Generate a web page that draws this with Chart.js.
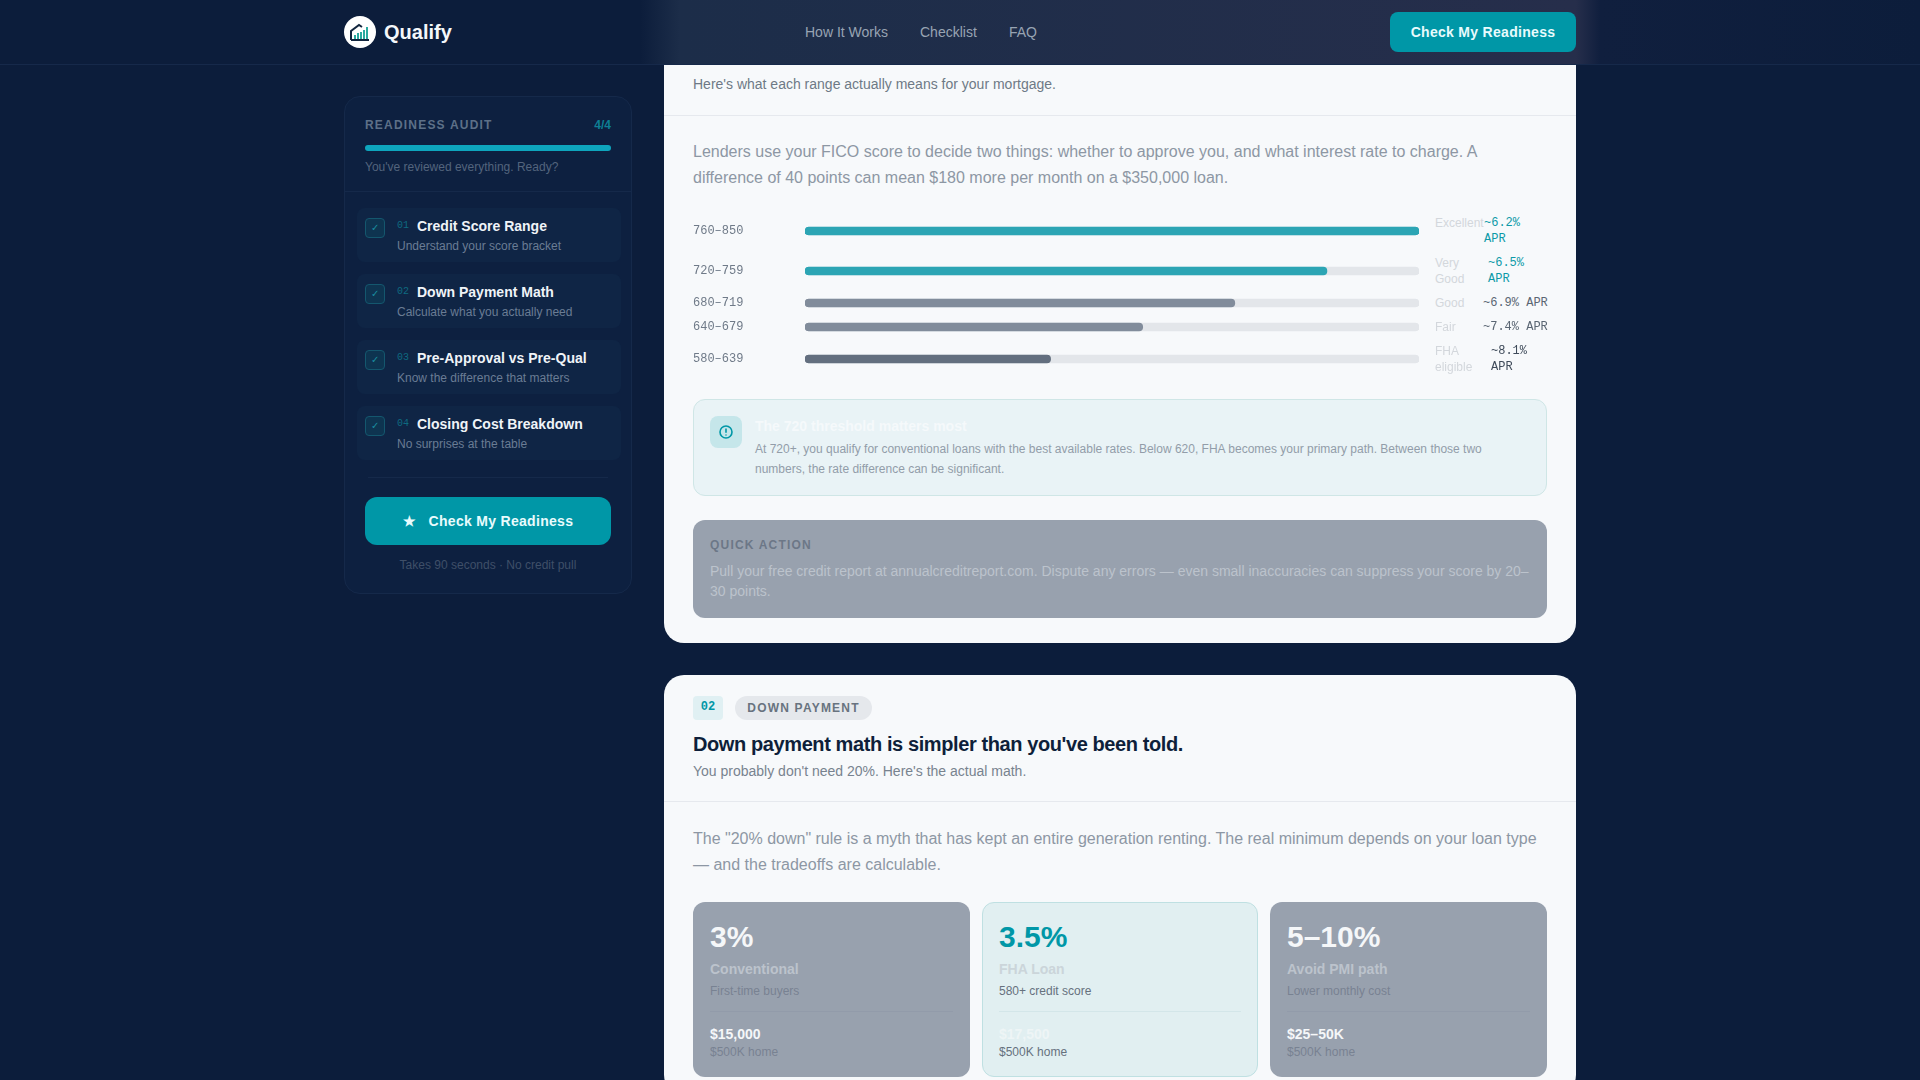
<!DOCTYPE html>
<html>
<head>
<meta charset="utf-8">
<title>Qualify</title>
<script src="https://cdn.jsdelivr.net/npm/chart.js@4"></script>
<style>
html, body { margin: 0; width: 1920px; height: 1080px; overflow: hidden; background: #0c1d3b; font-family: "Liberation Sans", Arial, sans-serif; }
div, a, span { position: absolute; white-space: nowrap; line-height: 1; box-sizing: border-box; }
.t { transform: translateY(-50%); }
.mono { font-family: "Liberation Mono", monospace; }
.header { left: 0; top: 0; width: 1920px; height: 65px; border-bottom: 1px solid #16294a; z-index: 5;
  background: linear-gradient(90deg, #0c1d3b 0, #0c1d3b 640px, #1c2d49 680px, #262e4b 1576px, #101f3e 1600px, #0c1d3b 1920px); }
.card { background: #f7f9fb; left: 664px; width: 912px; border-radius: 20px; }
.rule { height: 1px; background: #e6e9ee; }
.panel { left: 344px; top: 96px; width: 288px; height: 498px; border: 1px solid #15294a; border-radius: 16px; background: #0d2040; }
.item { left: 357px; width: 264px; height: 54px; background: #0f2545; border-radius: 8px; }
.box { left: 365px; width: 20px; height: 20px; border: 1px solid #14576e; background: #0e3450; border-radius: 4px; color: #1a8ea0; font-size: 10px; text-align: center; line-height: 18px; }
.btn { background: #0097a7; color: #e8fbfd; font-weight: 700; font-size: 14px; letter-spacing: .3px; text-align: center; }
.tile { top: 902px; height: 175px; background: #98a1ae; border-radius: 12px; }
.row { left: 693px; width: 854px; }
.row canvas { position: absolute; left: 0; }
</style>
</head>
<body>

<div class="card" style="top:40px;height:603px"></div>
<div class="card" style="top:675px;height:420px"></div>

<div class="header"></div>
<div style="left:344px;top:16px;width:32px;height:32px;border-radius:50%;background:#fff;z-index:6"></div>
<svg style="position:absolute;left:349px;top:22px;z-index:7" width="22" height="20" viewBox="0 0 22 20">
  <path d="M2 18V9L10 3l3 2" fill="none" stroke="#12263f" stroke-width="2"/>
  <path d="M2 18H20" stroke="#12263f" stroke-width="2"/>
  <path d="M6 17v-4M9 17v-6M12 17v-7M15 17v-9M18 17V5" stroke="#2aa9a0" stroke-width="2"/>
</svg>
<a class="t" style="left:384px;top:32px;font-size:20px;font-weight:700;color:#f4f7fa;z-index:6">Qualify</a>
<a class="t nav" style="left:805px;top:32px;font-size:14px;color:#98a4b3;z-index:6">How It Works</a>
<a class="t nav" style="left:920px;top:32px;font-size:14px;color:#98a4b3;z-index:6">Checklist</a>
<a class="t nav" style="left:1009px;top:32px;font-size:14px;color:#98a4b3;z-index:6">FAQ</a>
<div class="btn" style="left:1390px;top:12px;width:186px;height:40px;line-height:40px;border-radius:8px;z-index:6">Check My Readiness</div>

<!-- sidebar -->
<div class="panel"></div>
<span class="t" style="left:365px;top:125px;font-size:12px;font-weight:700;letter-spacing:1.2px;color:#5d7088">READINESS AUDIT</span>
<span class="t" style="right:1309px;top:125px;font-size:12px;font-weight:700;color:#0e7f95">4/4</span>
<div style="left:365px;top:145px;width:246px;height:6px;border-radius:3px;background:#0ea5bd"></div>
<span class="t" style="left:365px;top:167px;font-size:12px;color:#53647d">You've reviewed everything. Ready?</span>
<div style="left:344px;top:191px;width:288px;height:1px;background:#15294a"></div>
<div id="items"></div>
<div style="left:368px;top:477px;width:240px;height:1px;background:#15294a"></div>
<div class="btn" style="left:365px;top:497px;width:246px;height:48px;line-height:48px;border-radius:12px">★&nbsp;&nbsp;&nbsp;Check My Readiness</div>
<span class="t" style="left:365px;width:246px;text-align:center;top:565px;font-size:12px;color:#3f4f68">Takes 90 seconds · No credit pull</span>

<!-- card 1 -->
<span class="t" style="left:693px;top:84px;font-size:14px;color:#6e7986">Here's what each range actually means for your mortgage.</span>
<div class="rule" style="left:664px;top:115px;width:912px"></div>
<span class="t" style="left:693px;top:152px;font-size:16px;color:#8d97a4">Lenders use your FICO score to decide two things: whether to approve you, and what interest rate to charge. A</span>
<span class="t" style="left:693px;top:178px;font-size:16px;color:#8d97a4">difference of 40 points can mean $180 more per month on a $350,000 loan.</span>

<div id="rows"></div>

<div style="left:693px;top:399px;width:854px;height:97px;background:#e9f3f6;border:1px solid #cfe6e6;border-radius:12px"></div>
<div style="left:710px;top:416px;width:32px;height:32px;background:#c5e6ea;border-radius:8px"></div>
<svg style="position:absolute;left:718px;top:424px" width="16" height="16" viewBox="0 0 16 16">
  <circle cx="8" cy="8" r="6" fill="none" stroke="#0097a7" stroke-width="1.6"/>
  <path d="M8 4.5v4.2M8 10.4v1.2" stroke="#0097a7" stroke-width="1.6"/>
</svg>
<span class="t" style="left:755px;top:426px;font-size:14px;font-weight:700;color:#f5f9fb">The 720 threshold matters most</span>
<span class="t" style="left:755px;top:449px;font-size:12px;color:#929da9">At 720+, you qualify for conventional loans with the best available rates. Below 620, FHA becomes your primary path. Between those two</span>
<span class="t" style="left:755px;top:469px;font-size:12px;color:#929da9">numbers, the rate difference can be significant.</span>

<div style="left:693px;top:520px;width:854px;height:98px;background:#98a1ae;border-radius:12px"></div>
<span class="t" style="left:710px;top:545px;font-size:12px;font-weight:700;letter-spacing:1.2px;color:#6c7787">QUICK ACTION</span>
<span class="t" style="left:710px;top:571px;font-size:14px;color:#bcc3cc">Pull your free credit report at annualcreditreport.com. Dispute any errors — even small inaccuracies can suppress your score by 20–</span>
<span class="t" style="left:710px;top:591px;font-size:14px;color:#bcc3cc">30 points.</span>

<!-- card 2 -->
<div class="mono" style="left:693px;top:696px;width:30px;height:24px;line-height:22px;background:#e0f0f3;color:#0097a7;font-size:12px;font-weight:700;text-align:center;border-radius:4px">02</div>
<div style="left:735px;top:696px;width:137px;height:24px;line-height:24px;background:#e5e8ec;color:#68737f;font-size:12px;font-weight:700;letter-spacing:1.2px;text-align:center;border-radius:12px">DOWN PAYMENT</div>
<span class="t" style="left:693px;top:744px;font-size:20px;font-weight:700;color:#0e1f3a;letter-spacing:-.4px">Down payment math is simpler than you've been told.</span>
<span class="t" style="left:693px;top:771px;font-size:14px;color:#78838f">You probably don't need 20%. Here's the actual math.</span>
<div class="rule" style="left:664px;top:801px;width:912px"></div>
<span class="t" style="left:693px;top:839px;font-size:16px;color:#8d97a4">The "20% down" rule is a myth that has kept an entire generation renting. The real minimum depends on your loan type</span>
<span class="t" style="left:693px;top:865px;font-size:16px;color:#8d97a4">— and the tradeoffs are calculable.</span>
<div id="tiles"></div>

<script>
// credit score rows
const ranges = ["760–850", "720–759", "680–719", "640–679", "580–639"];
const barValues = [100, 85, 70, 55, 40];
const tiers = ["Excellent", "Very Good", "Good", "Fair", "FHA eligible"];
const aprs = ["~6.2% APR", "~6.5% APR", "~6.9% APR", "~7.4% APR", "~8.1% APR"];

// sidebar checklist
const stepTitles = ["Credit Score Range", "Down Payment Math", "Pre-Approval vs Pre-Qual", "Closing Cost Breakdown"];
const stepSubs = ["Understand your score bracket", "Calculate what you actually need", "Know the difference that matters", "No surprises at the table"];

// down payment tiles
const tilePercents = ["3%", "3.5%", "5–10%"];
const tileNames = ["Conventional", "FHA Loan", "Avoid PMI path"];
const tileSubs = ["First-time buyers", "580+ credit score", "Lower monthly cost"];
const tileAmounts = ["$15,000", "$17,500", "$25–50K"];

const fillColors = ["#2ca5b4", "#2ca5b4", "#818c9b", "#818c9b", "#636f7f"];
const aprColors = ["#0c9aa8", "#0c9aa8", "#5a6673", "#5a6673", "#3f4b5a"];

// each row is as tall as its wrapped text, so one small chart per row
const rowTops = [215, 255, 295, 319, 343];
const rowHeights = [32, 32, 16, 16, 32];
const aprLefts = [1484, 1488, 1483, 1483, 1491];

function make_row(i) {
    const rows = document.getElementById("rows");
    const row = document.createElement("div");
    row.className = "row";
    row.style.top = rowTops[i] + "px";
    row.style.height = rowHeights[i] + "px";

    // canvas stays 32 tall even in one line rows, 16px is too short for the tick label
    const canvas = document.createElement("canvas");
    canvas.width = 726;
    canvas.height = 32;
    canvas.style.width = "726px";
    canvas.style.height = "32px";
    canvas.style.top = (rowHeights[i] - 32) / 2 + "px";
    row.appendChild(canvas);

    const tier = document.createElement("div");
    tier.style.cssText = "left:742px;top:0;width:46px;white-space:normal;font-size:12px;line-height:16px;color:#d3d7dc";
    if (i == 0) tier.style.width = "60px";
    tier.textContent = tiers[i];
    row.appendChild(tier);

    const apr = document.createElement("div");
    apr.className = "mono";
    const wrap = rowHeights[i] == 32;
    apr.style.cssText = "left:" + (aprLefts[i] - 693) + "px;top:0;font-size:12px;line-height:16px;color:" + aprColors[i] + ";white-space:" + (wrap ? "normal;width:44px" : "nowrap");
    apr.style.fontFamily = '"Liberation Mono", monospace';
    apr.textContent = aprs[i];
    row.appendChild(apr);
    rows.appendChild(row);

    new Chart(canvas, {
        type: "bar",
        data: {
            labels: [ranges[i]],
            datasets: [
                { data: [barValues[i]], backgroundColor: fillColors[i], order: 1 },
                { data: [100], backgroundColor: "#e3e6ea", order: 2 }
            ]
        },
        options: {
            indexAxis: "y",
            responsive: false,
            animation: false,
            devicePixelRatio: 1,
            layout: { padding: 0 },
            datasets: {
                bar: { barThickness: 8, borderRadius: 4, borderSkipped: false, grouped: false }
            },
            plugins: { legend: { display: false }, tooltip: { enabled: false } },
            scales: {
                x: { display: false, min: 0, max: 100 },
                y: {
                    afterFit: (scale) => { scale.width = 112; },
                    grid: { display: false },
                    border: { display: false },
                    ticks: {
                        crossAlign: "far",
                        padding: 0,
                        color: "#6f7a88",
                        font: { family: "Liberation Mono", size: 12 }
                    }
                }
            }
        }
    });
}

ranges.forEach((r, i) => make_row(i));

let itemsHtml = "";
stepTitles.forEach((title, i) => {
    const top = 208 + i * 66;
    itemsHtml += `<div class="item" style="top:${top}px"></div>
    <div class="box" style="top:${top + 10}px">✓</div>
    <span class="t mono" style="left:397px;top:${top + 18}px;font-size:10px;color:#0e6a80">0${i + 1}</span>
    <span class="t" style="left:417px;top:${top + 18}px;font-size:14px;font-weight:700;color:#f0f4f8">${title}</span>
    <span class="t" style="left:397px;top:${top + 38}px;font-size:12px;color:#6a7c94">${stepSubs[i]}</span>`;
});
document.getElementById("items").innerHTML = itemsHtml;

const tileLefts = [693, 982, 1270];
const tileWidths = [277, 276, 277];
let tilesHtml = "";
tilePercents.forEach((pct, i) => {
    const mid = i == 1;
    const x = tileLefts[i] + 17;
    const subCol = mid ? "#66717e" : "#788292";
    tilesHtml += `<div class="tile" style="left:${tileLefts[i]}px;width:${tileWidths[i]}px;${mid ? "background:#e1eff1;border:1px solid #bfe0e2" : ""}"></div>
    <span class="t" style="left:${x}px;top:937px;font-size:30px;font-weight:700;color:${mid ? "#0097a7" : "#f5f7f9"}">${pct}</span>
    <span class="t" style="left:${x}px;top:969px;font-size:14px;font-weight:700;color:${mid ? "#cbd5da" : "#bcc3cc"}">${tileNames[i]}</span>
    <span class="t" style="left:${x}px;top:991px;font-size:12px;color:${subCol}">${tileSubs[i]}</span>
    <div style="left:${x}px;top:1011px;width:${tileWidths[i] - 34}px;height:1px;background:${mid ? "#d3e6e9" : "#929baa"}"></div>
    <span class="t" style="left:${x}px;top:1034px;font-size:14px;font-weight:700;color:${mid ? "#eef5f6" : "#f5f7f9"}">${tileAmounts[i]}</span>
    <span class="t" style="left:${x}px;top:1052px;font-size:12px;color:${subCol}">$500K home</span>`;
});
document.getElementById("tiles").innerHTML = tilesHtml;
</script>
</body>
</html>
